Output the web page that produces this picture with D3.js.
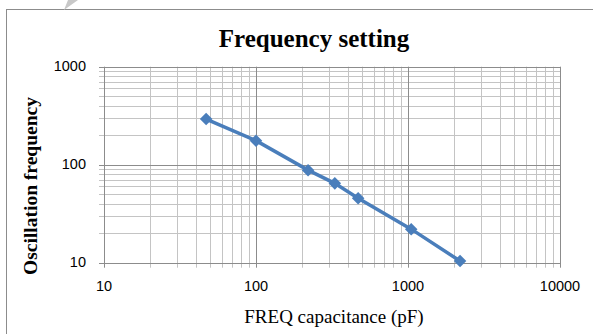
<!DOCTYPE html>
<html>
<head>
<meta charset="utf-8">
<script src="https://cdn.jsdelivr.net/npm/d3@7"></script>
<style>
  body { margin: 0; background: #fff; }
  svg { display: block; }
</style>
</head>
<body>
<div id="chart"></div>
<script>
// values
const capacitance = [47, 100, 220, 330, 470, 1050, 2200];   // pF
const frequency = [292, 176, 88, 64.5, 45.5, 22, 10.4];
const xTicks = [10, 100, 1000, 10000];
const yTicks = [10, 100, 1000];

const width = 593, height = 334;
const plot = { left: 104, right: 560, top: 66.7, bottom: 262.7 };

const svg = d3.select("#chart")
  .append("svg")
  .attr("width", width)
  .attr("height", height);

// outer chart frame (cut off at right and bottom)
svg.append("rect")
  .attr("x", 6.5).attr("y", 9.5)
  .attr("width", 600).attr("height", 340)
  .attr("fill", "#fff")
  .attr("stroke", "#8c8c8c")
  .attr("stroke-width", 1);

// little page corner mark at top
svg.append("path")
  .attr("d", "M64,10 L68,0 L78,0 Z")
  .attr("fill", "#c8c8c8");

const x = d3.scaleLog().domain([10, 10000]).range([plot.left, plot.right]);
const y = d3.scaleLog().domain([10, 1000]).range([plot.bottom, plot.top]);

// every 1..9 step of each decade
function logSteps(lo, hi) {
  const out = [];
  for (let d = lo; d < hi; d *= 10) {
    for (let k = 1; k < 10; k++) out.push(d * k);
  }
  out.push(hi);
  return out;
}
const xAll = logSteps(10, 10000);
const yAll = logSteps(10, 1000);
const isMajor = v => Math.abs(Math.log10(v) - Math.round(Math.log10(v))) < 1e-9;

// minor grid first, then major on top
const grid = svg.append("g");
grid.selectAll(".vx")
  .data(xAll.filter(v => !isMajor(v)))
  .enter().append("line")
  .attr("x1", d => Math.round(x(d)) + 0.5).attr("x2", d => Math.round(x(d)) + 0.5)
  .attr("y1", plot.top).attr("y2", plot.bottom + 5)
  .attr("stroke", "#c4c4c4");
grid.selectAll(".hy")
  .data(yAll.filter(v => !isMajor(v)))
  .enter().append("line")
  .attr("x1", plot.left - 5).attr("x2", plot.right)
  .attr("y1", d => Math.round(y(d)) + 0.5).attr("y2", d => Math.round(y(d)) + 0.5)
  .attr("stroke", "#c4c4c4");
grid.selectAll(".vxM")
  .data(xAll.filter(isMajor))
  .enter().append("line")
  .attr("x1", d => Math.round(x(d)) + 0.5).attr("x2", d => Math.round(x(d)) + 0.5)
  .attr("y1", plot.top).attr("y2", plot.bottom + 5)
  .attr("stroke", "#8c8c8c");
grid.selectAll(".hyM")
  .data(yAll.filter(isMajor))
  .enter().append("line")
  .attr("x1", plot.left - 5).attr("x2", plot.right)
  .attr("y1", d => Math.round(y(d)) + 0.5).attr("y2", d => Math.round(y(d)) + 0.5)
  .attr("stroke", "#8c8c8c");

// tick labels
svg.append("g").selectAll("text")
  .data(yTicks)
  .enter().append("text")
  .attr("x", plot.left - 18)
  .attr("y", d => y(d) + 4)
  .attr("text-anchor", "end")
  .attr("font-family", "'Liberation Sans', Arial, sans-serif")
  .attr("font-size", 14.5)
  .attr("fill", "#000")
  .text(d => d);

svg.append("g").selectAll("text")
  .data(xTicks)
  .enter().append("text")
  .attr("x", d => x(d))
  .attr("y", plot.bottom + 28)
  .attr("text-anchor", "middle")
  .attr("font-family", "'Liberation Sans', Arial, sans-serif")
  .attr("font-size", 14.5)
  .attr("fill", "#000")
  .text(d => d);

// the series
const pts = capacitance.map((c, i) => ({ c: c, f: frequency[i] }));
svg.append("path")
  .datum(pts)
  .attr("fill", "none")
  .attr("stroke", "#4a7ebb")
  .attr("stroke-width", 3.5)
  .attr("d", d3.line().x(d => x(d.c)).y(d => y(d.f)));

svg.append("g").selectAll("path")
  .data(pts)
  .enter().append("path")
  .attr("transform", d => "translate(" + x(d.c) + "," + y(d.f) + ")")
  .attr("d", d3.symbol().type(d3.symbolDiamond2).size(100))
  .attr("fill", "#4a7ebb");

// titles
svg.append("text")
  .attr("x", 314).attr("y", 47)
  .attr("text-anchor", "middle")
  .attr("font-family", "'Liberation Serif', 'Times New Roman', serif")
  .attr("font-weight", "bold")
  .attr("font-size", 25)
  .text("Frequency setting");

svg.append("text")
  .attr("transform", "translate(37,186) rotate(-90)")
  .attr("text-anchor", "middle")
  .attr("font-family", "'Liberation Serif', 'Times New Roman', serif")
  .attr("font-weight", "bold")
  .attr("font-size", 19.5)
  .text("Oscillation frequency");

svg.append("text")
  .attr("x", 334).attr("y", 322.5)
  .attr("text-anchor", "middle")
  .attr("font-family", "'Liberation Serif', 'Times New Roman', serif")
  .attr("font-size", 19)
  .text("FREQ capacitance (pF)");
</script>
</body>
</html>
